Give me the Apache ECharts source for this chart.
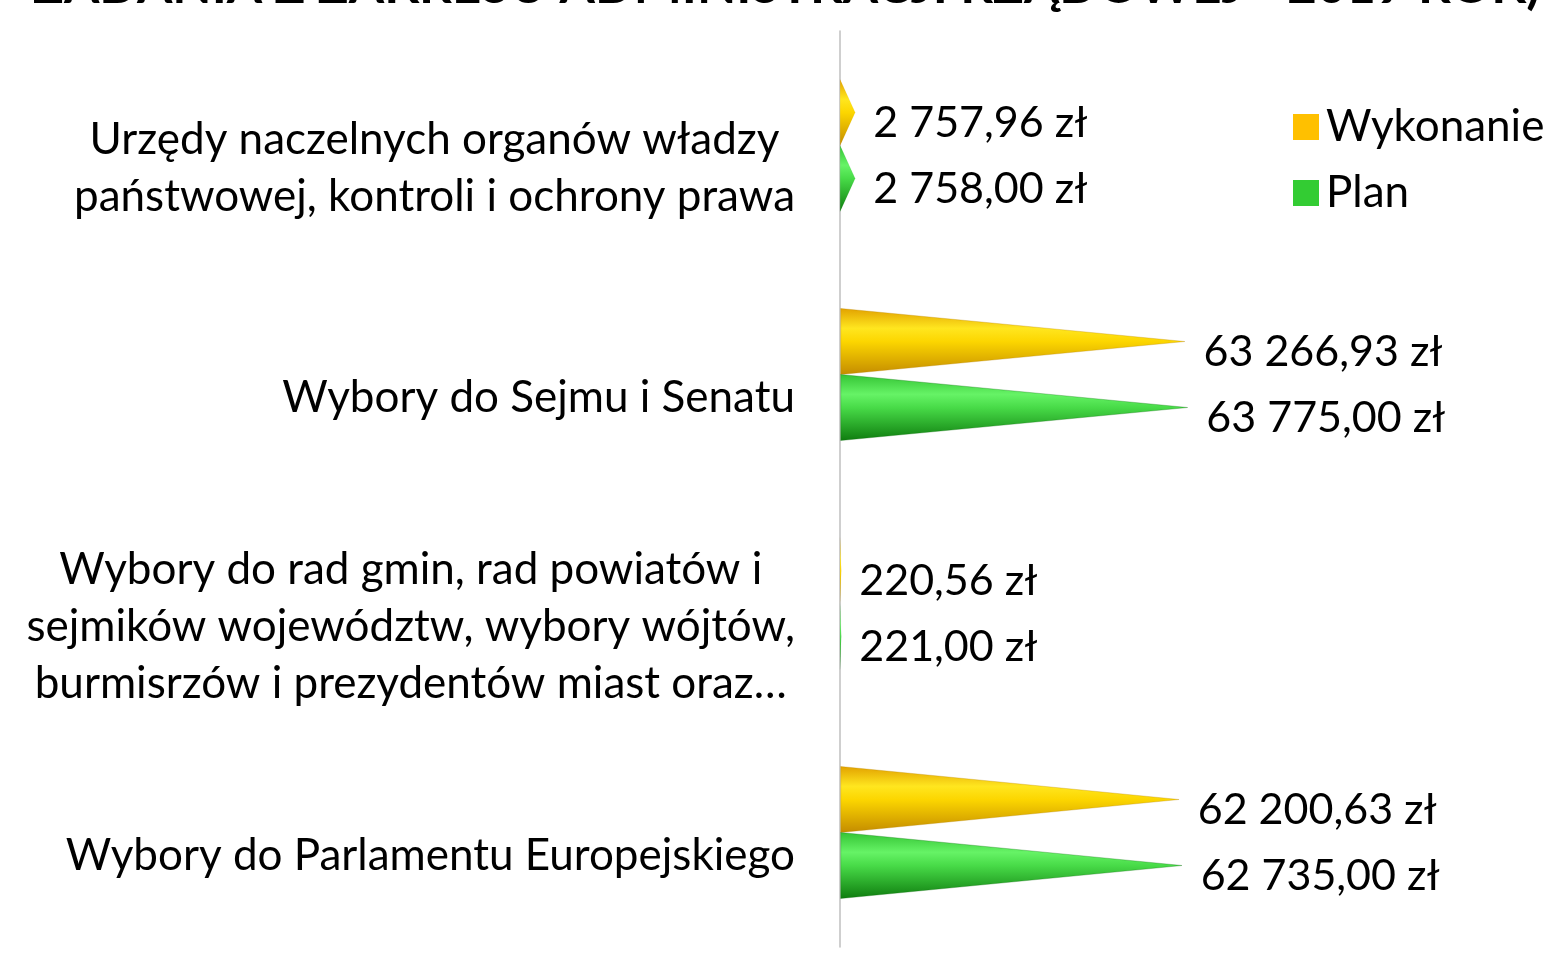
<!DOCTYPE html>
<html>
<head>
<meta charset="utf-8">
<script src="https://cdn.jsdelivr.net/npm/echarts@6/dist/echarts.min.js"></script>
<style>
  html, body { margin: 0; padding: 0; background: #fff; }
  #main { width: 1553px; height: 961px; }
</style>
</head>
<body>
<div id="main"></div>
<script>
// dane z wykresu
var categories = [
  'Urzędy naczelnych organów władzy\npaństwowej, kontroli i ochrony prawa',
  'Wybory do Sejmu i Senatu',
  'Wybory do rad gmin, rad powiatów i\nsejmików województw, wybory wójtów,\nburmisrzów i prezydentów miast oraz…',
  'Wybory do Parlamentu Europejskiego'
];
var wykonanie = [2757.96, 63266.93, 220.56, 62200.63];
var plan = [2758.00, 63775.00, 221.00, 62735.00];
var seriesNames = ['Wykonanie', 'Plan'];
var titleText = 'ZADANIA Z ZAKRESU ADMINISTRACJI RZĄDOWEJ - 2019 ROK)';

var FONT = 'Lato';

function zl(v) {
  var parts = v.toFixed(2).split('.');
  var intPart = parts[0].replace(/\B(?=(\d{3})+(?!\d))/g, ' ');
  return intPart + ',' + parts[1] + ' zł';
}

// stozek - trojkat skierowany w prawo
var cone = 'path://M0,0 L1,0.5 L0,1 Z';

function grad(stops) {
  return new echarts.graphic.LinearGradient(0, 0, 0, 1, stops.map(function (s) {
    return { offset: s[0], color: s[1] };
  }));
}

var chart = echarts.init(document.getElementById('main'));

var option = {
  animation: false,
  backgroundColor: '#ffffff',
  title: {
    text: titleText,
    left: 28,
    top: -44,
    textStyle: { fontFamily: FONT, fontSize: 51, fontWeight: 'bold', color: '#000' }
  },
  legend: {
    orient: 'vertical',
    left: 1288,
    top: 94,
    itemWidth: 26,
    itemHeight: 26,
    itemGap: 10,
    textStyle: { fontFamily: FONT, fontSize: 44, color: '#000', lineHeight: 56, padding: [0, 0, 0, 2] },
    data: [
      { name: seriesNames[0], icon: 'rect', itemStyle: { color: '#ffc000', borderWidth: 0 } },
      { name: seriesNames[1], icon: 'rect', itemStyle: { color: '#33cc33', borderWidth: 0 } }
    ]
  },
  grid: {
    left: 840,
    top: 31,
    width: 544,
    height: 916
  },
  xAxis: {
    type: 'value',
    min: 0,
    max: 100000,
    show: false
  },
  yAxis: {
    type: 'category',
    inverse: true,
    data: categories,
    axisLine: { lineStyle: { color: '#bfbfbf', width: 1.5 } },
    axisTick: { show: false },
    axisLabel: {
      margin: 45,
      padding: [46, 0, 0, 0],
      formatter: function (v) {
        return v.split('\n').map(function (l) { return '{c|' + l + '}'; }).join('\n');
      },
      rich: {
        c: { fontFamily: FONT, fontSize: 44, lineHeight: 57, color: '#000', align: 'center' }
      }
    }
  },
  series: [
    {
      name: seriesNames[0],
      type: 'pictorialBar',
      symbol: cone,
      symbolSize: ['100%', 66],
      symbolPosition: 'start',
      barWidth: 66,
      barGap: '0%',
      data: wykonanie,
      itemStyle: {
        color: grad([[0, '#e2a200'], [0.3, '#ffe61f'], [0.5, '#fcd600'], [1, '#c48c00']]),
        borderColor: '#b58200',
        borderWidth: 0.6
      },
      label: {
        show: true,
        position: 'right',
        distance: 18,
        offset: [0, 11],
        fontFamily: FONT,
        fontSize: 43,
        color: '#000',
        formatter: function (p) { return zl(p.value); }
      }
    },
    {
      name: seriesNames[1],
      type: 'pictorialBar',
      symbol: cone,
      symbolSize: ['100%', 66],
      symbolPosition: 'start',
      barWidth: 66,
      barGap: '0%',
      data: plan,
      itemStyle: {
        color: grad([[0, '#34c434'], [0.3, '#66f366'], [0.5, '#48db48'], [1, '#0f7d0f']]),
        borderColor: '#0d6e0d',
        borderWidth: 0.6
      },
      label: {
        show: true,
        position: 'right',
        distance: 18,
        offset: [0, 11],
        fontFamily: FONT,
        fontSize: 43,
        color: '#000',
        formatter: function (p) { return zl(p.value); }
      }
    }
  ]
};

chart.setOption(option);
</script>
</body>
</html>
